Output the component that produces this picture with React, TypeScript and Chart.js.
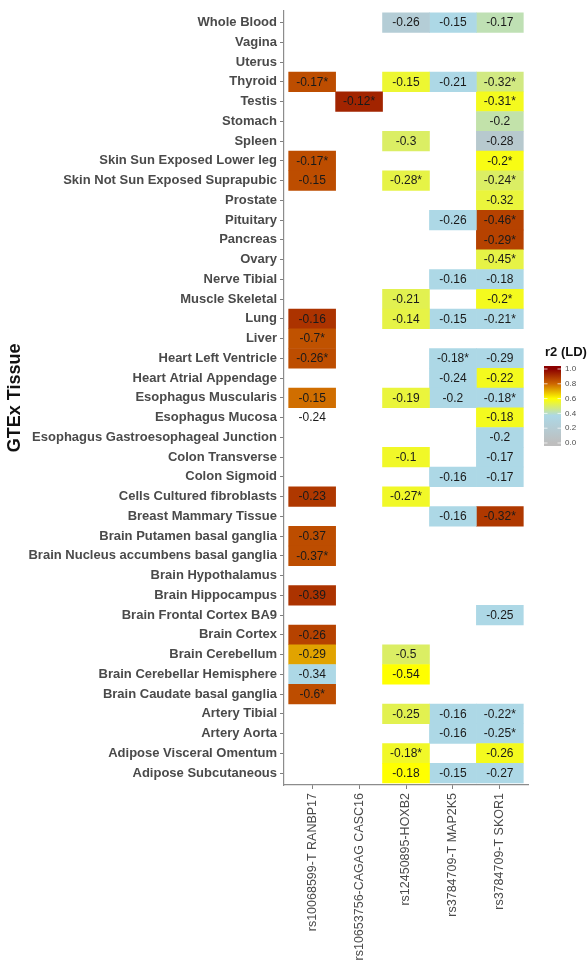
import React, { useEffect, useRef } from "react";
import { Chart, registerables } from "chart.js";

Chart.register(...registerables);

// ---------- DATA ----------
const tissues = [
  "Whole Blood",
  "Vagina",
  "Uterus",
  "Thyroid",
  "Testis",
  "Stomach",
  "Spleen",
  "Skin Sun Exposed Lower leg",
  "Skin Not Sun Exposed Suprapubic",
  "Prostate",
  "Pituitary",
  "Pancreas",
  "Ovary",
  "Nerve Tibial",
  "Muscle Skeletal",
  "Lung",
  "Liver",
  "Heart Left Ventricle",
  "Heart Atrial Appendage",
  "Esophagus Muscularis",
  "Esophagus Mucosa",
  "Esophagus Gastroesophageal Junction",
  "Colon Transverse",
  "Colon Sigmoid",
  "Cells Cultured fibroblasts",
  "Breast Mammary Tissue",
  "Brain Putamen basal ganglia",
  "Brain Nucleus accumbens basal ganglia",
  "Brain Hypothalamus",
  "Brain Hippocampus",
  "Brain Frontal Cortex BA9",
  "Brain Cortex",
  "Brain Cerebellum",
  "Brain Cerebellar Hemisphere",
  "Brain Caudate basal ganglia",
  "Artery Tibial",
  "Artery Aorta",
  "Adipose Visceral Omentum",
  "Adipose Subcutaneous",
];

const variants = [
  "rs10068599-T RANBP17",
  "rs10653756-CAGAG CASC16",
  "rs12450895-HOXB2",
  "rs3784709-T MAP2K5",
  "rs3784709-T SKOR1",
];

// rs10068599-T RANBP17
const ranbp17Rows = [
  "Thyroid", "Skin Sun Exposed Lower leg", "Skin Not Sun Exposed Suprapubic", "Lung", "Liver",
  "Heart Left Ventricle", "Esophagus Muscularis", "Esophagus Mucosa", "Cells Cultured fibroblasts",
  "Brain Putamen basal ganglia", "Brain Nucleus accumbens basal ganglia", "Brain Hippocampus",
  "Brain Cortex", "Brain Cerebellum", "Brain Cerebellar Hemisphere", "Brain Caudate basal ganglia",
];
const ranbp17Labels = [
  "-0.17*", "-0.17*", "-0.15", "-0.16", "-0.7*", "-0.26*", "-0.15", "-0.24", "-0.23",
  "-0.37", "-0.37*", "-0.39", "-0.26", "-0.29", "-0.34", "-0.6*",
];
const ranbp17R2 = [
  0.85, 0.85, 0.85, 0.9, 0.84, 0.85, 0.79, null, 0.89, 0.85, 0.85, 0.9, 0.87, 0.72, 0.37, 0.85,
];

// rs10653756-CAGAG CASC16
const casc16Rows = ["Testis"];
const casc16Labels = ["-0.12*"];
const casc16R2 = [0.93];

// rs12450895-HOXB2
const hoxb2Rows = [
  "Whole Blood", "Thyroid", "Spleen", "Skin Not Sun Exposed Suprapubic", "Muscle Skeletal", "Lung",
  "Esophagus Muscularis", "Colon Transverse", "Cells Cultured fibroblasts", "Brain Cerebellum",
  "Brain Cerebellar Hemisphere", "Artery Tibial", "Adipose Visceral Omentum", "Adipose Subcutaneous",
];
const hoxb2Labels = [
  "-0.26", "-0.15", "-0.3", "-0.28*", "-0.21", "-0.14", "-0.19", "-0.1", "-0.27*", "-0.5",
  "-0.54", "-0.25", "-0.18*", "-0.18",
];
const hoxb2R2 = [0.22, 0.55, 0.5, 0.53, 0.52, 0.53, 0.54, 0.56, 0.56, 0.5, 0.6, 0.52, 0.56, 0.6];

// rs3784709-T MAP2K5
const map2k5Rows = [
  "Whole Blood", "Thyroid", "Pituitary", "Nerve Tibial", "Lung", "Heart Left Ventricle",
  "Heart Atrial Appendage", "Esophagus Muscularis", "Colon Sigmoid", "Breast Mammary Tissue",
  "Artery Tibial", "Artery Aorta", "Adipose Subcutaneous",
];
const map2k5Labels = [
  "-0.15", "-0.21", "-0.26", "-0.16", "-0.15", "-0.18*", "-0.24", "-0.2", "-0.16", "-0.16",
  "-0.16", "-0.16", "-0.15",
];
const map2k5R2 = [0.37, 0.37, 0.37, 0.37, 0.37, 0.37, 0.37, 0.37, 0.37, 0.37, 0.37, 0.37, 0.37];

// rs3784709-T SKOR1
const skor1Rows = [
  "Whole Blood", "Thyroid", "Testis", "Stomach", "Spleen", "Skin Sun Exposed Lower leg",
  "Skin Not Sun Exposed Suprapubic", "Prostate", "Pituitary", "Pancreas", "Ovary", "Nerve Tibial",
  "Muscle Skeletal", "Lung", "Heart Left Ventricle", "Heart Atrial Appendage", "Esophagus Muscularis",
  "Esophagus Mucosa", "Esophagus Gastroesophageal Junction", "Colon Transverse", "Colon Sigmoid",
  "Breast Mammary Tissue", "Brain Frontal Cortex BA9", "Artery Tibial", "Artery Aorta",
  "Adipose Visceral Omentum", "Adipose Subcutaneous",
];
const skor1Labels = [
  "-0.17", "-0.32*", "-0.31*", "-0.2", "-0.28", "-0.2*", "-0.24*", "-0.32", "-0.46*", "-0.29*",
  "-0.45*", "-0.18", "-0.2*", "-0.21*", "-0.29", "-0.22", "-0.18*", "-0.18", "-0.2", "-0.17",
  "-0.17", "-0.32*", "-0.25", "-0.22*", "-0.25*", "-0.26", "-0.27",
];
const skor1R2 = [
  0.42, 0.47, 0.57, 0.43, 0.15, 0.58, 0.5, 0.54, 0.87, 0.87, 0.53, 0.37, 0.57, 0.37, 0.37, 0.57,
  0.37, 0.57, 0.37, 0.37, 0.37, 0.89, 0.37, 0.37, 0.37, 0.57, 0.37,
];

const legendTicks = [1.0, 0.8, 0.6, 0.4, 0.2, 0.0];

// ---------- COLOUR SCALE ----------
const colourStops: [number, [number, number, number]][] = [
  [0.0, [190, 190, 190]],
  [0.37, [173, 216, 230]],
  [0.6, [255, 255, 0]],
  [0.8, [205, 102, 0]],
  [1.0, [139, 0, 0]],
];

function r2Colour(v: number): string {
  if (v <= colourStops[0][0]) {
    const c = colourStops[0][1];
    return `rgb(${c[0]},${c[1]},${c[2]})`;
  }
  for (let i = 1; i < colourStops.length; i++) {
    const [v1, c1] = colourStops[i];
    const [v0, c0] = colourStops[i - 1];
    if (v <= v1) {
      const t = (v - v0) / (v1 - v0);
      const c = c0.map((x, k) => Math.round(x + (c1[k] - x) * t));
      return `rgb(${c[0]},${c[1]},${c[2]})`;
    }
  }
  const c = colourStops[colourStops.length - 1][1];
  return `rgb(${c[0]},${c[1]},${c[2]})`;
}

const FONT = "'Liberation Sans', Arial, Helvetica, sans-serif";

const columns = [
  { rows: ranbp17Rows, labels: ranbp17Labels, r2: ranbp17R2 },
  { rows: casc16Rows, labels: casc16Labels, r2: casc16R2 },
  { rows: hoxb2Rows, labels: hoxb2Labels, r2: hoxb2R2 },
  { rows: map2k5Rows, labels: map2k5Labels, r2: map2k5R2 },
  { rows: skor1Rows, labels: skor1Labels, r2: skor1R2 },
];

const cellTextPlugin = {
  id: "cellText",
  afterDatasetsDraw(chart: any) {
    const ctx = chart.ctx;
    ctx.save();
    ctx.font = `12px ${FONT}`;
    ctx.fillStyle = "#1a1a1a";
    ctx.textAlign = "center";
    ctx.textBaseline = "middle";
    chart.data.datasets.forEach((ds: any, di: number) => {
      const meta = chart.getDatasetMeta(di);
      meta.data.forEach((el: any, i: number) => {
        const p = el.getCenterPoint();
        ctx.fillText(ds.cellLabels[i], p.x, p.y + 0.5);
      });
    });
    ctx.restore();
  },
};

const colourBarPlugin = {
  id: "colourBar",
  afterDraw(chart: any) {
    const ctx = chart.ctx;
    const area = chart.chartArea;
    const x0 = area.right + 16;
    const barW = 17;
    const yTop = 366;
    const yBot = 446;
    const v1 = 369;
    const v0 = 443;
    ctx.save();
    ctx.font = `bold 13px ${FONT}`;
    ctx.fillStyle = "#111";
    ctx.textAlign = "left";
    ctx.textBaseline = "middle";
    ctx.fillText("r2 (LD)", x0 + 1, 352);
    const grad = ctx.createLinearGradient(0, v0, 0, v1);
    colourStops.forEach(([v, c]) => grad.addColorStop(v, `rgb(${c[0]},${c[1]},${c[2]})`));
    ctx.fillStyle = grad;
    ctx.fillRect(x0, yTop, barW, yBot - yTop);
    ctx.font = `8px ${FONT}`;
    ctx.fillStyle = "#4d4d4d";
    legendTicks.forEach((t) => {
      const y = v0 + (v1 - v0) * t;
      ctx.strokeStyle = "rgba(255,255,255,0.9)";
      ctx.lineWidth = 0.8;
      ctx.beginPath();
      ctx.moveTo(x0, y);
      ctx.lineTo(x0 + 3.5, y);
      ctx.moveTo(x0 + barW - 3.5, y);
      ctx.lineTo(x0 + barW, y);
      ctx.stroke();
      ctx.fillText(t.toFixed(1), x0 + barW + 4, y);
    });
    ctx.restore();
  },
};

export default function App() {
  const ref = useRef<HTMLCanvasElement>(null);

  useEffect(() => {
    const canvas = ref.current;
    if (!canvas) return;

    const datasets = columns.map((col, c) => ({
      label: variants[c],
      data: col.rows.map((r) => ({ y: tissues.indexOf(r), x: [c - 0.5, c + 0.5] })),
      backgroundColor: col.r2.map((v) => (v == null ? "rgba(0,0,0,0)" : r2Colour(v))),
      borderWidth: 0,
      borderSkipped: false,
      cellLabels: col.labels,
    }));

    const chart = new Chart(canvas, {
      type: "bar",
      data: { datasets: datasets as any },
      options: {
        responsive: false,
        animation: false,
        indexAxis: "y",
        grouped: false,
        categoryPercentage: 1,
        barPercentage: 1,
        layout: { padding: { top: 9, right: 59, left: 0, bottom: 0 } },
        plugins: {
          legend: { display: false },
          tooltip: { enabled: false },
        },
        scales: {
          y: {
            type: "linear",
            reverse: true,
            offset: false,
            min: -0.6,
            max: tissues.length - 1 + 0.6,
            afterBuildTicks: (s: any) => {
              s.ticks = tissues.map((_, i) => ({ value: i }));
            },
            afterFit: (s: any) => {
              s.width = 284;
            },
            ticks: {
              autoSkip: false,
              padding: 3,
              color: "#4a4a4a",
              font: { family: FONT, size: 13, weight: "bold" },
              callback: (v: any) => tissues[v as number],
            },
            grid: {
              offset: false,
              drawOnChartArea: false,
              drawTicks: true,
              tickLength: 4,
              color: "#7f7f7f",
              lineWidth: 1,
            },
            border: { display: true, color: "#8c8c8c", width: 1.2 },
            title: {
              display: true,
              text: "GTEx Tissue",
              color: "#111",
              font: { family: FONT, size: 18, weight: "bold" },
              padding: { top: 4, bottom: 0 },
            },
          },
          x: {
            type: "linear",
            offset: false,
            min: -0.6,
            max: variants.length - 1 + 0.6,
            afterBuildTicks: (s: any) => {
              s.ticks = variants.map((_, i) => ({ value: i }));
            },
            afterFit: (s: any) => {
              s.height = 178;
            },
            ticks: {
              autoSkip: false,
              minRotation: 90,
              maxRotation: 90,
              padding: 4,
              color: "#4a4a4a",
              font: { family: FONT, size: 12.5 },
              callback: (v: any) => variants[v as number],
            },
            grid: {
              offset: false,
              drawOnChartArea: false,
              drawTicks: true,
              tickLength: 4,
              color: "#7f7f7f",
              lineWidth: 1,
            },
            border: { display: true, color: "#8c8c8c", width: 1.2 },
          },
        },
      } as any,
      plugins: [cellTextPlugin, colourBarPlugin],
    });

    return () => chart.destroy();
  }, []);

  return (
    <div style={{ position: "absolute", left: 0, top: 0, width: 587, height: 963, background: "#fff" }}>
      <canvas ref={ref} width={587} height={963} style={{ display: "block" }} />
    </div>
  );
}
